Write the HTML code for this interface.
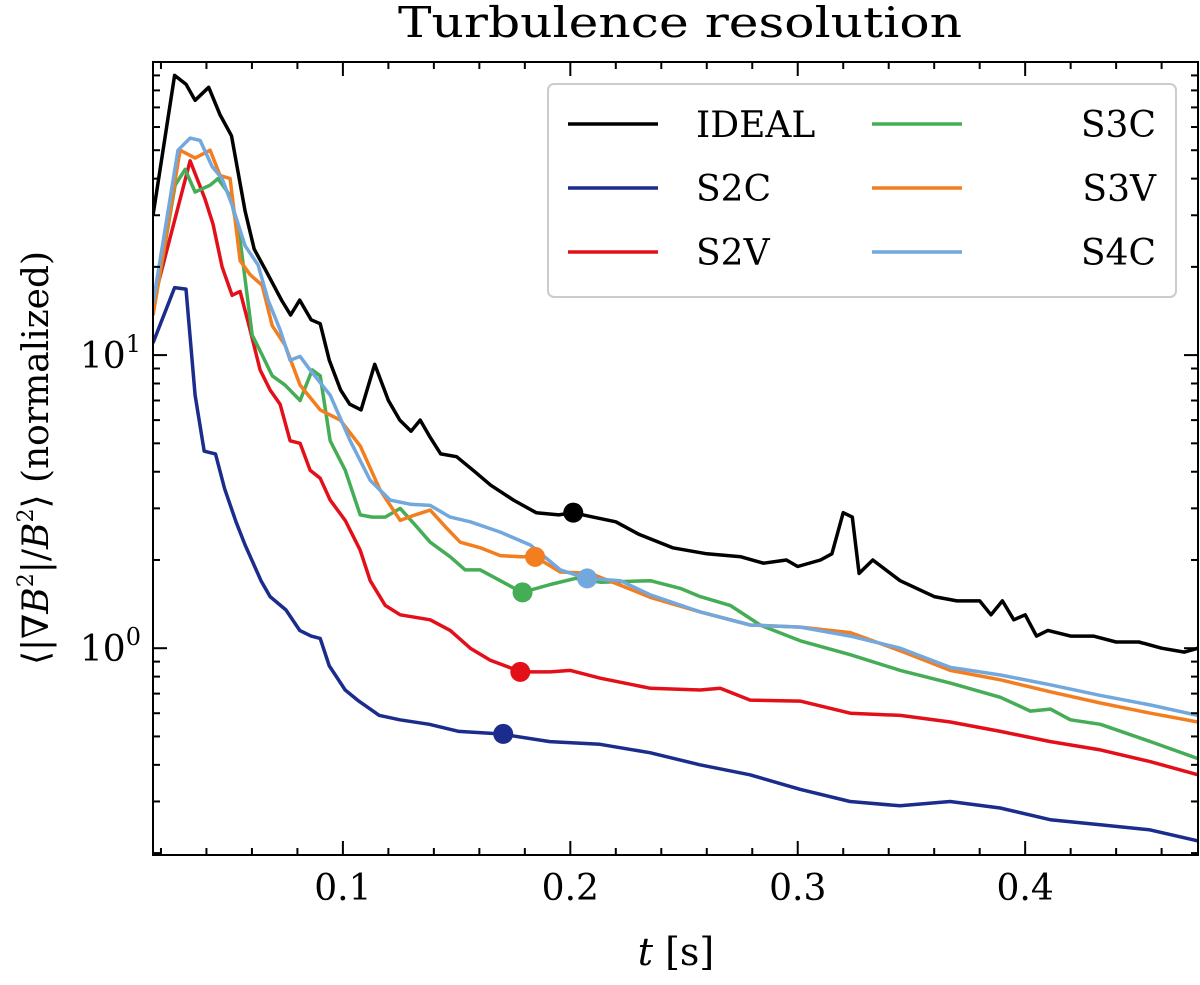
<!DOCTYPE html>
<html><head><meta charset="utf-8"><style>
html,body{margin:0;padding:0;background:#fff;}
svg text{font-family:"DejaVu Serif","Liberation Serif",serif;fill:#000;}
</style></head><body>
<svg id="chart" width="1200" height="980" xmlns="http://www.w3.org/2000/svg">
<text x="680" y="37" font-size="42" text-anchor="middle" textLength="564" lengthAdjust="spacingAndGlyphs">Turbulence resolution</text>
<g id="plot"></g>
<g id="axes"></g>
<text x="676" y="965" font-size="38" text-anchor="middle"><tspan font-style="italic">t</tspan> [s]</text>
<text transform="translate(48,458) rotate(-90)" font-size="36" text-anchor="middle">⟨|∇<tspan font-style="italic">B</tspan><tspan font-size="22" dy="-15">2</tspan><tspan dy="15">|/</tspan><tspan font-style="italic">B</tspan><tspan font-size="22" dy="-15">2</tspan><tspan dy="15">⟩ (normalized)</tspan></text>
<g id="legend"></g>
</svg>
<script>
const seriesNames=["IDEAL","S2C","S2V","S3C","S3V","S4C"];
const seriesColors=["#000000","#1b2c8c","#e3101a","#45ad55","#f37e1f","#72a8dd"];
const tIDEAL=[0.0165,0.026,0.031,0.035,0.041,0.046,0.051,0.057,0.061,0.066,0.073,0.077,0.081,0.086,0.090,0.094,0.099,0.103,0.108,0.114,0.120,0.125,0.130,0.134,0.138,0.143,0.150,0.158,0.165,0.175,0.185,0.195,0.201,0.210,0.220,0.230,0.245,0.26,0.275,0.285,0.295,0.30,0.31,0.315,0.320,0.324,0.327,0.333,0.345,0.36,0.37,0.38,0.385,0.39,0.395,0.40,0.405,0.41,0.42,0.43,0.44,0.45,0.46,0.47,0.476];
const vIDEAL=[30,90,84,74,82,66,56,31,23,19.5,15.4,13.7,15.4,13.2,12.8,9.6,7.6,6.8,6.5,9.3,7.0,6.0,5.5,6.0,5.3,4.6,4.5,4.0,3.6,3.2,2.9,2.85,2.9,2.8,2.7,2.45,2.2,2.1,2.05,1.95,2.0,1.9,2.0,2.1,2.9,2.8,1.8,2.0,1.7,1.5,1.45,1.45,1.3,1.45,1.25,1.3,1.1,1.15,1.1,1.1,1.05,1.05,1.0,0.97,1.0];
const tS2C=[0.0165,0.026,0.031,0.035,0.039,0.044,0.048,0.053,0.057,0.064,0.068,0.075,0.081,0.086,0.090,0.094,0.101,0.107,0.116,0.125,0.138,0.151,0.169,0.191,0.213,0.235,0.257,0.279,0.301,0.323,0.345,0.367,0.389,0.411,0.433,0.455,0.476];
const vS2C=[11,17,16.8,7.3,4.7,4.6,3.5,2.7,2.25,1.7,1.5,1.35,1.15,1.1,1.08,0.87,0.72,0.66,0.59,0.57,0.55,0.52,0.51,0.48,0.47,0.44,0.40,0.37,0.33,0.30,0.29,0.30,0.285,0.26,0.25,0.24,0.22];
const tS2V=[0.0165,0.0328,0.0394,0.0429,0.0469,0.0513,0.0548,0.0592,0.0636,0.0680,0.0724,0.0768,0.0812,0.0856,0.0900,0.0944,0.1010,0.1076,0.1120,0.1186,0.1252,0.1384,0.1472,0.1560,0.1648,0.1784,0.1912,0.2,0.2132,0.2352,0.2571,0.2659,0.2791,0.3011,0.3231,0.3451,0.3671,0.3891,0.4111,0.4331,0.4551,0.476];
const vS2V=[15,46,34,28,20,16,16.5,12.2,8.9,7.6,6.8,5.1,5.0,4.05,3.8,3.2,2.73,2.16,1.7,1.4,1.3,1.25,1.15,1.0,0.91,0.83,0.83,0.84,0.79,0.73,0.72,0.73,0.665,0.66,0.6,0.59,0.56,0.52,0.48,0.45,0.41,0.37];
const tS3C=[0.0165,0.0262,0.0306,0.0350,0.0416,0.0451,0.0504,0.0548,0.0601,0.0645,0.0689,0.0746,0.0812,0.0865,0.0900,0.0944,0.1010,0.1076,0.1129,0.1186,0.1252,0.1318,0.1384,0.1472,0.1538,0.1604,0.1692,0.1788,0.1912,0.2022,0.2132,0.2352,0.2484,0.2571,0.2703,0.2835,0.3011,0.3231,0.3451,0.3671,0.3891,0.4023,0.4111,0.4199,0.4331,0.4551,0.476];
const vS3C=[13.7,38,43,36,38,40,35,24.7,11.7,10,8.5,7.9,7.0,8.9,8.5,5.1,4.05,2.85,2.8,2.8,3.0,2.63,2.3,2.05,1.85,1.85,1.7,1.55,1.65,1.73,1.68,1.7,1.6,1.5,1.4,1.2,1.06,0.95,0.84,0.76,0.68,0.61,0.62,0.57,0.55,0.48,0.42];
const tS3V=[0.0165,0.0284,0.0350,0.0416,0.0460,0.0504,0.0548,0.0592,0.0645,0.0689,0.0746,0.0812,0.0900,0.0988,0.1076,0.1164,0.1252,0.1318,0.1384,0.1450,0.1516,0.1604,0.1692,0.1780,0.1845,0.1956,0.2088,0.2220,0.2352,0.2571,0.2791,0.3011,0.3231,0.3451,0.3671,0.3891,0.4111,0.4331,0.4551,0.476];
const vS3V=[13.7,50,47,50,41,40,21,18.8,17.3,12.6,10.8,7.9,6.5,6.0,4.9,3.46,2.73,2.85,2.96,2.6,2.3,2.2,2.07,2.05,2.05,1.82,1.8,1.64,1.49,1.33,1.2,1.18,1.13,0.98,0.84,0.78,0.71,0.65,0.6,0.56];
const tS4C=[0.0165,0.0275,0.0328,0.0372,0.0425,0.0469,0.0513,0.0570,0.0627,0.0671,0.0724,0.0768,0.0812,0.0856,0.0944,0.1032,0.1120,0.1208,0.1296,0.1384,0.1472,0.1560,0.1692,0.1824,0.1956,0.2074,0.2220,0.2352,0.2571,0.2791,0.3011,0.3231,0.3451,0.3671,0.3891,0.4111,0.4331,0.4551,0.476];
const vS4C=[15,50,55,54,44,40,32.5,23.6,20.3,15.4,12.2,9.6,9.9,8.9,7.3,5.1,3.74,3.2,3.1,3.07,2.8,2.7,2.49,2.25,1.85,1.73,1.7,1.52,1.33,1.2,1.18,1.1,1.0,0.86,0.81,0.75,0.69,0.64,0.59];
const markerT=[0.2013,0.1705,0.178,0.179,0.1845,0.2074];
const markerV=[2.9,0.51,0.83,1.55,2.05,1.73];
const xTicks=[0.1,0.2,0.3,0.4];
const xTickLabels=["0.1","0.2","0.3","0.4"];

const L=153,R=1198,T=62,B=855;
const xMin=0.0165,xMax=0.476;
const yMinLog=Math.log10(0.197),yMaxLog=2.0;
function X(t){return L+(t-xMin)/(xMax-xMin)*(R-L);}
function Y(v){return B-(Math.log10(v)-yMinLog)/(yMaxLog-yMinLog)*(B-T);}
const NS="http://www.w3.org/2000/svg";
function mk(tag,parent){const e=document.createElementNS(NS,tag);parent.appendChild(e);return e;}
const plot=document.getElementById('plot'),axes=document.getElementById('axes'),leg=document.getElementById('legend');
const ts=[tIDEAL,tS2C,tS2V,tS3C,tS3V,tS4C],vs=[vIDEAL,vS2C,vS2V,vS3C,vS3V,vS4C];
const defs=mk('defs',plot);const cp=mk('clipPath',defs);cp.setAttribute('id','clip');
const cr=mk('rect',cp);cr.setAttribute('x',L);cr.setAttribute('y',T);cr.setAttribute('width',R-L);cr.setAttribute('height',B-T);
const g=mk('g',plot);g.setAttribute('clip-path','url(#clip)');
const order=[1,2,3,4,5,0];
order.forEach(i=>{
  const p=mk('polyline',g);
  
  
  p.setAttribute('points',ts[i].map((t,k)=>X(t).toFixed(1)+','+Y(vs[i][k]).toFixed(1)).join(' '));
  p.setAttribute('fill','none');p.setAttribute('stroke',seriesColors[i]);p.setAttribute('stroke-width','3.5');p.setAttribute('stroke-linejoin','round');
});
seriesNames.forEach((n,i)=>{
  const c=mk('circle',g);
  
  
  c.setAttribute('cx',X(markerT[i]));c.setAttribute('cy',Y(markerV[i]));c.setAttribute('r','10');c.setAttribute('fill',seriesColors[i]);
});
const fr=mk('rect',axes);


fr.setAttribute('x',L);fr.setAttribute('y',T);fr.setAttribute('width',R-L);fr.setAttribute('height',B-T);fr.setAttribute('fill','none');fr.setAttribute('stroke','#000');fr.setAttribute('stroke-width','2');
function tick(x1,y1,x2,y2){const l=mk('line',axes);l.setAttribute('x1',x1);l.setAttribute('y1',y1);l.setAttribute('x2',x2);l.setAttribute('y2',y2);l.setAttribute('stroke','#000');l.setAttribute('stroke-width','2');

}
for(let k=1;k<24;k++){const t=k*0.02;if(t<xMin||t>xMax)continue;const x=X(t);const major=Math.abs(t*10-Math.round(t*10))<1e-6;const len=major?14:7;tick(x,B,x,B-len);tick(x,T,x,T+len);}
xTicks.forEach((t,i)=>{const tx=mk('text',axes);


tx.setAttribute('x',X(t));tx.setAttribute('y',B+45);tx.setAttribute('font-size','36');tx.setAttribute('text-anchor','middle');tx.textContent=xTickLabels[i];});
[0.1,1,10,100].forEach(d=>{for(let m=1;m<10;m++){const v=d*m;const lv=Math.log10(v);if(lv<yMinLog||lv>yMaxLog)continue;const y=Y(v);const len=m===1?14:7;tick(L,y,L+len,y);tick(R,y,R-len,y);}});
[[10,"1"],[1,"0"]].forEach(([v,e])=>{const tx=mk('text',axes);


tx.setAttribute('x',L-12);tx.setAttribute('y',Y(v)+13);tx.setAttribute('font-size','36');tx.setAttribute('text-anchor','end');
tx.innerHTML='10<tspan font-size="24" dy="-16">'+e+'</tspan>';});
const lb=mk('rect',leg);


lb.setAttribute('x',548);lb.setAttribute('y',84);lb.setAttribute('width',628);lb.setAttribute('height',213);lb.setAttribute('rx',6);lb.setAttribute('fill','#fff');lb.setAttribute('fill-opacity','0.85');lb.setAttribute('stroke','#ccc');lb.setAttribute('stroke-width','2');
seriesNames.forEach((n,i)=>{const col=Math.floor(i/3),row=i%3;const x0=col?872:568,y0=124+row*64;
const e=mk('g',leg);


const l=mk('line',e);l.setAttribute('x1',x0);l.setAttribute('x2',x0+90);l.setAttribute('y1',y0);l.setAttribute('y2',y0);l.setAttribute('stroke',seriesColors[i]);l.setAttribute('stroke-width','3.5');
const tx=mk('text',e);tx.setAttribute('x',col?1156:696);tx.setAttribute('y',y0+13);tx.setAttribute('font-size','36');tx.setAttribute('text-anchor',col?'end':'start');tx.textContent=n;});
</script>
</body></html>
